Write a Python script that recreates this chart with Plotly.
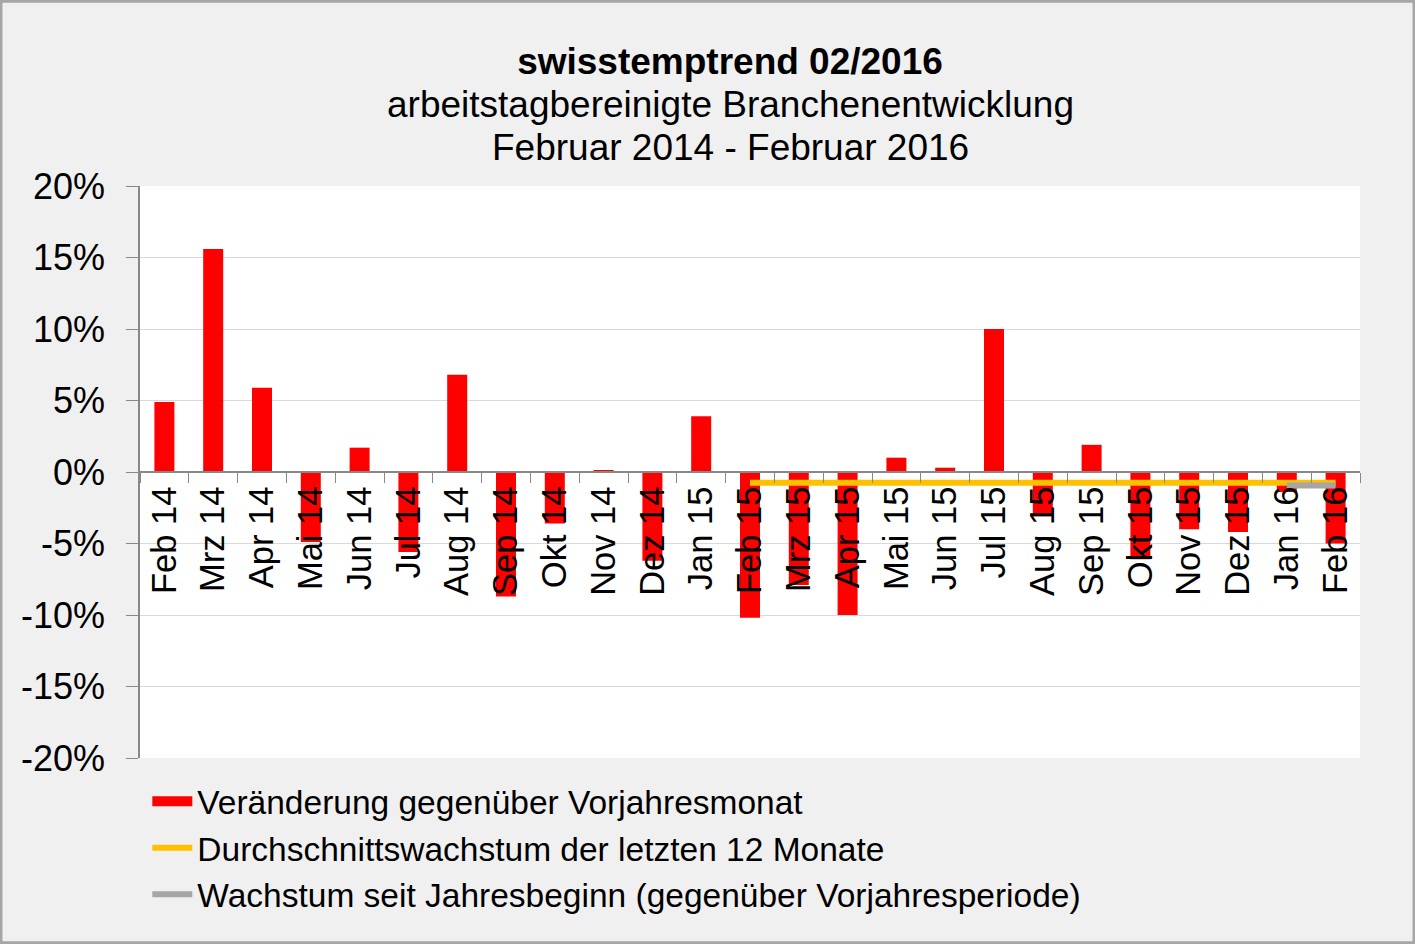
import plotly.graph_objects as go

categories = ["Feb 14", "Mrz 14", "Apr 14", "Mai 14", "Jun 14", "Jul 14", "Aug 14", "Sep 14",
              "Okt 14", "Nov 14", "Dez 14", "Jan 15", "Feb 15", "Mrz 15", "Apr 15", "Mai 15",
              "Jun 15", "Jul 15", "Aug 15", "Sep 15", "Okt 15", "Nov 15", "Dez 15", "Jan 16", "Feb 16"]
veraenderung = [4.9, 15.6, 5.9, -4.9, 1.7, -5.6, 6.8, -8.7,
                -3.6, 0.1, -6.2, 3.9, -10.2, -7.9, -10.0, 1.0,
                0.3, 10.0, -3.1, 1.9, -6.1, -4.0, -4.2, -1.4, -5.0]
durchschnitt12 = [None] * 12 + [-0.75] * 13
seit_jahresbeginn = [None] * 23 + [-0.95, -0.95]

y_tickvals = [-20, -15, -10, -5, 0, 5, 10, 15, 20]
y_ticktext = ["-20%", "-15%", "-10%", "-5%", "0%", "5%", "10%", "15%", "20%"]

title_lines = ["swisstemptrend 02/2016",
               "arbeitstagbereinigte Branchenentwicklung",
               "Februar 2014 - Februar 2016"]

names = ["Veränderung gegenüber Vorjahresmonat",
         "Durchschnittswachstum der letzten 12 Monate",
         "Wachstum seit Jahresbeginn (gegenüber Vorjahresperiode)"]

FONT = "Liberation Sans, Arial, sans-serif"
RED, ORANGE, GREY = "#FF0000", "#FFC000", "#A6A6A6"

fig = go.Figure()
fig.add_trace(go.Bar(x=categories, y=veraenderung, name=names[0], showlegend=False,
                     marker=dict(color=RED, line=dict(width=0)), width=0.41))
# legend entry for the bars drawn as a wide red block (as in the original legend)
fig.add_trace(go.Scatter(x=[None], y=[None], name=names[0], mode="lines",
                         line=dict(color=RED, width=18)))
fig.add_trace(go.Scatter(x=categories, y=durchschnitt12, name=names[1], mode="lines",
                         line=dict(color=ORANGE, width=6), connectgaps=False))
fig.add_trace(go.Scatter(x=categories, y=seit_jahresbeginn, name=names[2], mode="lines",
                         line=dict(color=GREY, width=6), connectgaps=False))

W, H = 1415, 944
ml, mr, mt, mb = 140, 55, 186, 186
pw, ph = W - ml - mr, H - mt - mb
title_cx = (730 - ml) / pw

def py(ypix):
    return (H - mb - ypix) / ph

fig.update_layout(
    width=W, height=H,
    margin=dict(l=ml, r=mr, t=mt, b=mb, pad=0),
    paper_bgcolor="#F0F0F0",
    plot_bgcolor="#FFFFFF",
    font=dict(family=FONT, size=33, color="#000000"),
    title=dict(
        text="<b>" + title_lines[0] + "</b>",
        x=title_cx, xref="paper", xanchor="center",
        y=1 - 61 / H, yref="container", yanchor="middle",
        font=dict(family=FONT, size=37, color="#000000"),
    ),
    annotations=[
        dict(text=title_lines[1], x=title_cx, y=py(104), xref="paper", yref="paper",
             xanchor="center", yanchor="middle", showarrow=False,
             font=dict(family=FONT, size=37, color="#000000")),
        dict(text=title_lines[2], x=title_cx, y=py(147), xref="paper", yref="paper",
             xanchor="center", yanchor="middle", showarrow=False,
             font=dict(family=FONT, size=37, color="#000000")),
    ],
    xaxis=dict(
        type="category", anchor="free", position=0.5,
        showline=True, linecolor="#888888", linewidth=1.5,
        ticks="outside", tickson="boundaries", ticklen=10, tickcolor="#888888",
        tickangle=-90, tickfont=dict(family=FONT, size=34.5),
        showgrid=False, zeroline=False, layer="above traces",
    ),
    yaxis=dict(
        range=[-20, 20], tickmode="array", tickvals=y_tickvals, ticktext=y_ticktext,
        showline=True, linecolor="#888888", linewidth=1.5,
        ticks="outside", ticklen=12, tickcolor="#888888",
        ticklabelstandoff=14,
        showgrid=True, gridcolor="#D9D9D9", gridwidth=1,
        zeroline=False, tickfont=dict(family=FONT, size=36),
    ),
    showlegend=True,
    legend=dict(
        x=0.006, y=-0.026, xanchor="left", yanchor="top",
        bgcolor="rgba(0,0,0,0)", font=dict(family=FONT, size=33.5),
        itemwidth=40, tracegroupgap=0,
    ),
    shapes=[dict(type="rect", xref="paper", yref="paper",
                 x0=-ml / pw + 0.0008, x1=1 + mr / pw - 0.0008,
                 y0=-mb / ph + 0.002, y1=1 + mt / ph - 0.002,
                 line=dict(color="#A6A6A6", width=3), fillcolor="rgba(0,0,0,0)", layer="above")],
)

fig.write_html("out.html", config={"displayModeBar": False},
               post_script="document.body.style.margin='0';document.body.style.padding='0';")
